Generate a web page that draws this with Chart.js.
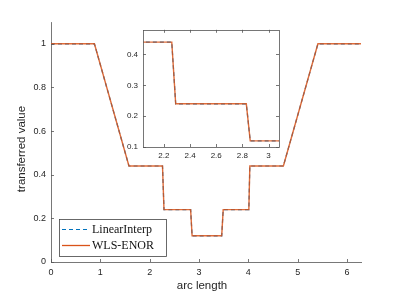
<!DOCTYPE html>
<html>
<head>
<meta charset="utf-8">
<script src="https://cdn.jsdelivr.net/npm/chart.js@4/dist/chart.umd.min.js"></script>
<style>
  body { margin: 0; background: #fff; }
  #wrap { position: relative; width: 399px; height: 295px; }
  #mainChart { position: absolute; left: 0; top: 0; }
  #insetChart { position: absolute; left: 110px; top: 20px; }
</style>
</head>
<body>
<div id="wrap">
  <canvas id="mainChart" width="399" height="295"></canvas>
  <canvas id="insetChart" width="180" height="145"></canvas>
</div>
<script>
// values
const arcLength = [0, 0.88, 1.58, 2.26, 2.29, 2.83, 2.86, 3.46, 3.49, 4.01, 4.03, 4.71, 5.41, 6.283];
const linearInterp = [1, 1, 0.44, 0.44, 0.24, 0.24, 0.12, 0.12, 0.24, 0.24, 0.44, 0.44, 1, 1];
const wlsEnor = [1, 1, 0.44, 0.44, 0.24, 0.24, 0.12, 0.12, 0.24, 0.24, 0.44, 0.44, 1, 1];

const mainXTicks = [0, 1, 2, 3, 4, 5, 6];
const mainYTicks = [0, 0.2, 0.4, 0.6, 0.8, 1];
const insetXTicks = [2.2, 2.4, 2.6, 2.8, 3];
const insetYTicks = [0.1, 0.2, 0.3, 0.4];

const BLUE = "#0072BD";
const ORANGE = "#D95319";
const AXIS = "#555";
const TEXT = "#262626";
const SANS = "'Liberation Sans', Arial, Helvetica, sans-serif";
const SERIF = "'Liberation Serif', 'Times New Roman', serif";

function points(ys) {
  return arcLength.map((x, i) => ({ x: x, y: ys[i] }));
}

function makeDatasets() {
  return [
    {
      label: "LinearInterp",
      data: points(linearInterp),
      borderColor: BLUE,
      borderWidth: 1.2,
      borderDash: [4, 3],
      pointRadius: 0,
      tension: 0,
      order: 2,
    },
    {
      label: "WLS-ENOR",
      data: points(wlsEnor),
      borderColor: "rgba(217, 83, 25, 0.85)",
      borderWidth: 1.4,
      pointRadius: 0,
      tension: 0,
      order: 1,
    },
  ];
}

function keepTicks(list) {
  return (scale) => {
    scale.ticks = list.map((v) => ({ value: v }));
  };
}

const plain = (v) => String(Math.round(v * 100) / 100);

// inward tick marks drawn from the scales
function drawTicks(chart, sides, len) {
  const ctx = chart.ctx;
  const a = chart.chartArea;
  const xs = chart.scales.x, ys = chart.scales.y;
  ctx.save();
  ctx.strokeStyle = AXIS;
  ctx.lineWidth = 0.8;
  ctx.beginPath();
  xs.ticks.forEach((t) => {
    const px = Math.round(xs.getPixelForValue(t.value)) + 0.5;
    if (sides.includes("bottom")) { ctx.moveTo(px, a.bottom); ctx.lineTo(px, a.bottom - len); }
    if (sides.includes("top")) { ctx.moveTo(px, a.top); ctx.lineTo(px, a.top + len); }
  });
  ys.ticks.forEach((t) => {
    const py = Math.round(ys.getPixelForValue(t.value)) + 0.5;
    if (sides.includes("left")) { ctx.moveTo(a.left, py); ctx.lineTo(a.left + len, py); }
    if (sides.includes("right")) { ctx.moveTo(a.right, py); ctx.lineTo(a.right - len, py); }
  });
  ctx.stroke();
  ctx.restore();
}

const mainExtras = {
  id: "mainExtras",
  afterDraw(chart) {
    drawTicks(chart, ["bottom", "left"], 3);
    const ctx = chart.ctx;
    ctx.save();
    ctx.fillStyle = TEXT;
    ctx.font = "11.5px " + SANS;
    ctx.textAlign = "center";
    ctx.textBaseline = "middle";
    ctx.fillText("arc length", 202, 286);
    ctx.translate(22, 149);
    ctx.rotate(-Math.PI / 2);
    ctx.fillText("transferred value", 0, 0);
    ctx.restore();

    // legend box
    ctx.save();
    ctx.fillStyle = "#fff";
    ctx.fillRect(59.5, 219.5, 107, 37);
    ctx.strokeStyle = "#444";
    ctx.lineWidth = 0.8;
    ctx.strokeRect(59.5, 219.5, 107, 37);
    ctx.lineWidth = 1;
    ctx.strokeStyle = BLUE;
    ctx.setLineDash([4, 3]);
    ctx.beginPath();
    ctx.moveTo(62, 229.5);
    ctx.lineTo(90, 229.5);
    ctx.stroke();
    ctx.setLineDash([]);
    ctx.strokeStyle = ORANGE;
    ctx.lineWidth = 1.3;
    ctx.beginPath();
    ctx.moveTo(62, 245.5);
    ctx.lineTo(90, 245.5);
    ctx.stroke();
    ctx.fillStyle = "#111";
    ctx.font = "12px " + SERIF;
    ctx.textAlign = "left";
    ctx.textBaseline = "middle";
    ctx.fillText("LinearInterp", 92, 229.5);
    ctx.fillText("WLS-ENOR", 92, 245.5);
    ctx.restore();
  },
};

const insetExtras = {
  id: "insetExtras",
  beforeDatasetsDraw(chart) {
    const a = chart.chartArea;
    chart.ctx.save();
    chart.ctx.fillStyle = "#fff";
    chart.ctx.fillRect(a.left, a.top, a.right - a.left, a.bottom - a.top);
    chart.ctx.restore();
  },
  afterDraw(chart) {
    drawTicks(chart, ["bottom", "left", "top", "right"], 3);
    const a = chart.chartArea;
    const ctx = chart.ctx;
    ctx.save();
    ctx.strokeStyle = AXIS;
    ctx.lineWidth = 0.8;
    ctx.strokeRect(Math.round(a.left) + 0.5, Math.round(a.top) + 0.5,
      Math.round(a.right - a.left), Math.round(a.bottom - a.top));
    ctx.restore();
  },
};

new Chart(document.getElementById("mainChart"), {
  type: "line",
  data: { datasets: makeDatasets() },
  options: {
    responsive: false,
    animation: false,
    devicePixelRatio: 1,
    layout: { padding: { top: 22, right: 38, left: 0, bottom: 0 } },
    plugins: { legend: { display: false }, tooltip: { enabled: false } },
    scales: {
      x: {
        type: "linear",
        min: 0,
        max: 2 * Math.PI,
        afterBuildTicks: keepTicks(mainXTicks),
        afterFit: (s) => { s.height = 33; },
        grid: { display: false, drawTicks: false },
        border: { display: true, color: AXIS, width: 0.8 },
        ticks: { font: { size: 9, family: SANS }, color: TEXT, padding: 5, maxRotation: 0, callback: plain },
      },
      y: {
        min: 0,
        max: 1.1,
        afterBuildTicks: keepTicks(mainYTicks),
        afterFit: (s) => { s.width = 51; },
        grid: { display: false, drawTicks: false },
        border: { display: true, color: AXIS, width: 0.8 },
        ticks: { font: { size: 9, family: SANS }, color: TEXT, padding: 5, callback: plain },
      },
    },
  },
  plugins: [mainExtras],
});

new Chart(document.getElementById("insetChart"), {
  type: "line",
  data: { datasets: makeDatasets() },
  options: {
    responsive: false,
    animation: false,
    devicePixelRatio: 1,
    layout: { padding: { top: 9, right: 11, left: 0, bottom: 0 } },
    plugins: { legend: { display: false }, tooltip: { enabled: false } },
    scales: {
      x: {
        type: "linear",
        min: 2.04,
        max: 3.08,
        afterBuildTicks: keepTicks(insetXTicks),
        afterFit: (s) => { s.height = 18; },
        grid: { display: false, drawTicks: false },
        border: { display: false },
        ticks: { font: { size: 8, family: SANS }, color: TEXT, padding: 4, maxRotation: 0, callback: plain },
      },
      y: {
        min: 0.1,
        max: 0.48,
        afterBuildTicks: keepTicks(insetYTicks),
        afterFit: (s) => { s.width = 33; },
        grid: { display: false, drawTicks: false },
        border: { display: false },
        ticks: { font: { size: 8, family: SANS }, color: TEXT, padding: 5, callback: plain },
      },
    },
  },
  plugins: [insetExtras],
});
</script>
</body>
</html>
